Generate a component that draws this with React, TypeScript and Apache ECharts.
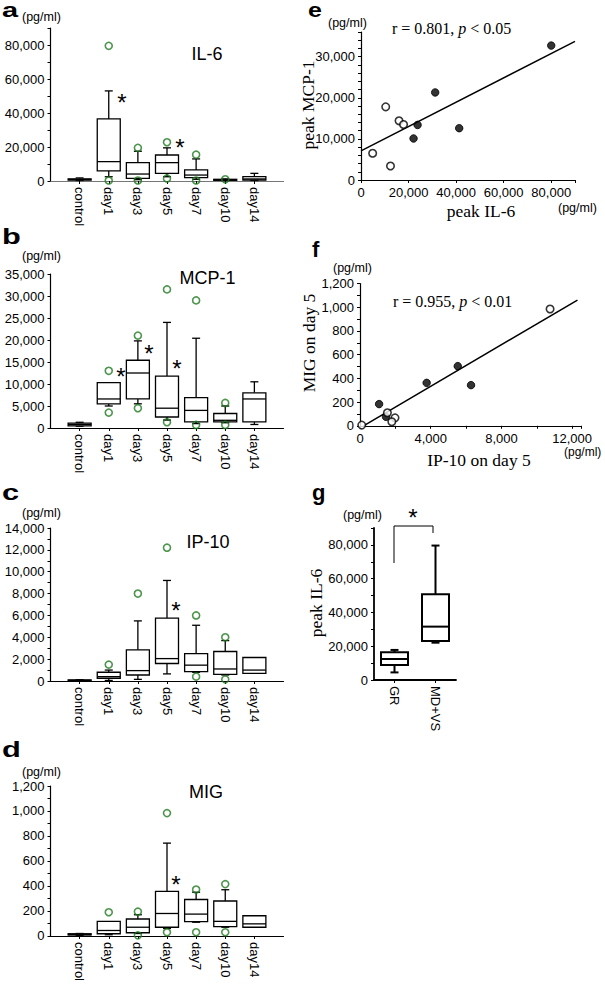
import React, { useEffect, useRef } from "react";
import * as echarts from "echarts";

// ---------- data ----------
const CATS = ["", "control", "day1", "day3", "day5", "day7", "day10", "day14", ""];

// each row: [low whisker, Q1, median, Q3, high whisker] for control, day1, day3, day5, day7, day10, day14
const IL6_BOX = [
  [300, 500, 900, 1300, 1800],
  [2500, 5900, 11400, 36500, 53000],
  [800, 1600, 4100, 10800, 17500],
  [2500, 4500, 10800, 15300, 19500],
  [1000, 2000, 3500, 6500, 13000],
  [200, 400, 700, 1000, 1200],
  [300, 600, 1200, 2600, 4500],
];
const IL6_OUT = [["day1", 79500], ["day1", 300], ["day3", 19500], ["day3", 300], ["day5", 22800], ["day5", 1500], ["day7", 15500], ["day7", 300], ["day10", 1000]];

const MCP1_BOX = [
  [400, 500, 800, 1100, 1300],
  [5000, 5500, 6600, 10300, 10300],
  [5500, 6600, 12500, 15400, 19800],
  [1800, 2500, 4500, 11800, 24000],
  [1000, 1400, 4000, 6900, 20400],
  [1200, 1400, 1750, 3300, 5000],
  [800, 1400, 6600, 8000, 10500],
];
const MCP1_OUT = [["day1", 13000], ["day1", 3500], ["day3", 21000], ["day3", 4500], ["day5", 31500], ["day5", 1300], ["day7", 29000], ["day7", 700], ["day10", 5700], ["day10", 700]];

const IP10_BOX = [
  [20, 30, 60, 100, 120],
  [50, 250, 400, 800, 1000],
  [150, 550, 950, 2850, 5500],
  [650, 1600, 2050, 5750, 9200],
  [800, 850, 1450, 2500, 5100],
  [550, 600, 1100, 2700, 3700],
  [700, 700, 1000, 2150, 2150],
];
const IP10_OUT = [["day1", 1500], ["day3", 8000], ["day5", 12200], ["day7", 6000], ["day7", 400], ["day10", 4000], ["day10", 150]];

const MIG_BOX = [
  [5, 8, 12, 18, 20],
  [10, 18, 44, 117, 117],
  [20, 26, 70, 136, 170],
  [60, 70, 180, 357, 743],
  [110, 115, 175, 292, 350],
  [70, 75, 117, 280, 370],
  [70, 70, 97, 162, 162],
];
const MIG_OUT = [["day1", 190], ["day3", 195], ["day3", 5], ["day5", 983], ["day5", 30], ["day7", 372], ["day7", 30], ["day10", 415], ["day10", 30]];

// e: peak IL-6 (x) vs peak MCP-1 (y)
const E_FILLED = [[80000, 32700], [31200, 21300], [23800, 13400], [22100, 10100], [41300, 12600]];
const E_OPEN = [[4900, 6500], [10400, 17800], [16000, 14400], [17900, 13500], [12400, 3400]];
const E_FIT = [[0, 7100], [90000, 33700]];

// f: IP-10 on day 5 (x) vs MIG on day 5 (y)
const F_FILLED = [[1080, 183], [1470, 76], [3770, 362], [5530, 503], [6280, 343]];
const F_OPEN = [[100, 6], [1550, 110], [1980, 67], [1800, 34], [10750, 985]];
const F_FIT = [[200, 0], [12300, 1060]];

// g: peak IL-6 by group
const G_CATS = ["GR", "MD+VS"];
const G_BOX = [
  [4500, 8900, 12450, 16400, 17800],
  [22100, 23100, 31600, 50800, 79600],
];

// ---------- style ----------
const SANS = "'Liberation Sans', Arial, Helvetica, sans-serif";
const SERIF = "'Liberation Serif', 'Times New Roman', serif";
const GREEN = "#1f7a1f";

const fmt = (step: number) => (v: number) =>
  Math.abs(v % step) < 1e-6 ? v.toLocaleString("en-US") : "";

function boxRender(boxW: number, capW: number, lw: number) {
  return (params: any, api: any) => {
    const x = api.value(0);
    const lo = api.value(1), q1 = api.value(2), med = api.value(3), q3 = api.value(4), hi = api.value(5);
    const pLo = api.coord([x, lo]);
    const pQ1 = api.coord([x, q1]);
    const pMed = api.coord([x, med]);
    const pQ3 = api.coord([x, q3]);
    const pHi = api.coord([x, hi]);
    const cx = pMed[0];
    const st = { stroke: "#000", lineWidth: lw, fill: "none" };
    const children: any[] = [];
    if (hi > q3) {
      children.push({ type: "line", shape: { x1: cx, y1: pQ3[1], x2: cx, y2: pHi[1] }, style: st });
      children.push({ type: "line", shape: { x1: cx - capW / 2, y1: pHi[1], x2: cx + capW / 2, y2: pHi[1] }, style: st });
    }
    if (lo < q1) {
      children.push({ type: "line", shape: { x1: cx, y1: pQ1[1], x2: cx, y2: pLo[1] }, style: st });
      children.push({ type: "line", shape: { x1: cx - capW / 2, y1: pLo[1], x2: cx + capW / 2, y2: pLo[1] }, style: st });
    }
    children.push({
      type: "rect",
      shape: { x: cx - boxW / 2, y: pQ3[1], width: boxW, height: Math.max(pQ1[1] - pQ3[1], 0.5) },
      style: { fill: "#fff", stroke: "#000", lineWidth: lw },
    });
    children.push({ type: "line", shape: { x1: cx - boxW / 2, y1: pMed[1], x2: cx + boxW / 2, y2: pMed[1] }, style: st });
    return { type: "group", children };
  };
}

function yAxisCfg(gi: number, max: number, step: number, labelStep: number) {
  return {
    type: "value",
    gridIndex: gi,
    min: 0,
    max,
    interval: step,
    axisLine: { show: true, lineStyle: { color: "#000", width: 1.2 } },
    axisTick: { show: true, length: 3, lineStyle: { color: "#000", width: 1 } },
    splitLine: { show: false },
    axisLabel: { fontSize: 13, fontFamily: SANS, color: "#000", margin: 6, formatter: fmt(labelStep) },
  };
}

function catXAxis(gi: number, color: string) {
  return {
    type: "category",
    gridIndex: gi,
    data: CATS,
    boundaryGap: false,
    axisLine: { onZero: false, lineStyle: { color, width: 1.2 } },
    axisTick: { show: true, length: 3, interval: (i: number) => i > 0 && i < CATS.length - 1, lineStyle: { color: "#000" } },
    axisLabel: { rotate: -90, interval: 0, fontSize: 13, fontFamily: SANS, color: "#000", margin: 6 },
  };
}

function valXAxis(gi: number, max: number, step: number, labelStep: number) {
  return {
    type: "value",
    gridIndex: gi,
    min: 0,
    max,
    interval: step,
    axisLine: { show: true, onZero: false, lineStyle: { color: "#000", width: 1.2 } },
    axisTick: { show: true, length: 3, lineStyle: { color: "#000" } },
    splitLine: { show: false },
    axisLabel: { fontSize: 13, fontFamily: SANS, color: "#000", margin: 6, formatter: fmt(labelStep) },
  };
}

function boxSeries(gi: number, boxes: number[][], outs: (string | number)[][]) {
  return [
    {
      type: "custom",
      xAxisIndex: gi,
      yAxisIndex: gi,
      renderItem: boxRender(23, 8, 1.3),
      data: boxes.map((b, i) => [i + 1, ...b]),
      z: 2,
    },
    {
      type: "scatter",
      xAxisIndex: gi,
      yAxisIndex: gi,
      symbol: "circle",
      symbolSize: 7,
      itemStyle: { color: "rgba(0,0,0,0)", borderColor: GREEN, borderWidth: 1.6 },
      data: outs.map(([n, v]) => [CATS.indexOf(n as string), v]),
      z: 3,
    },
  ];
}

const txt = (text: string, x: number, y: number, size: number, o: any = {}) => ({
  type: "text",
  x,
  y,
  rotation: o.rot || 0,
  scaleX: o.sx || 1,
  z: 10,
  style: {
    text,
    fontSize: size,
    fontFamily: o.family || SANS,
    fontWeight: o.bold ? "bold" : "normal",
    fill: "#000",
    align: o.align || "left",
    verticalAlign: "middle",
    lineHeight: o.lh,
    rich: o.rich,
  },
});

export default function App() {
  const ref = useRef<HTMLDivElement>(null);
  useEffect(() => {
    if (!ref.current) return;
    const chart = echarts.init(ref.current, null, { renderer: "svg" });

    const grids = [
      { left: 50.5, top: 28, width: 233, height: 153 },
      { left: 50.5, top: 274, width: 233, height: 154 },
      { left: 50.5, top: 528, width: 233, height: 153 },
      { left: 50.5, top: 786, width: 233, height: 153 },
      { left: 361, top: 32, width: 214, height: 148 },
      { left: 360, top: 283.5, width: 221, height: 142.3 },
      { left: 374, top: 528, width: 82, height: 152 },
    ];

    const xAxis: any[] = [
      catXAxis(0, "#777"),
      catXAxis(1, "#000"),
      catXAxis(2, "#000"),
      catXAxis(3, "#000"),
      valXAxis(4, 90000, 20000, 20000),
      valXAxis(5, 12500, 2000, 4000),
      {
        type: "category",
        gridIndex: 6,
        data: G_CATS,
        boundaryGap: true,
        axisLine: { onZero: false, lineStyle: { color: "#000", width: 1.8 } },
        axisTick: { show: true, alignWithLabel: true, length: 3, lineStyle: { color: "#000" } },
        axisLabel: { rotate: -90, interval: 0, fontSize: 13, fontFamily: SANS, color: "#000", margin: 6 },
      },
    ];

    const yAxis: any[] = [
      yAxisCfg(0, 90000, 10000, 20000),
      yAxisCfg(1, 35000, 5000, 5000),
      yAxisCfg(2, 14000, 1000, 2000),
      yAxisCfg(3, 1200, 100, 200),
      yAxisCfg(4, 36000, 2000, 10000),
      yAxisCfg(5, 1200, 100, 200),
      { ...yAxisCfg(6, 90000, 10000, 20000), axisLine: { show: true, lineStyle: { color: "#000", width: 1.8 } } },
    ];

    const scatterStyle = (filled: boolean) => ({
      symbol: "circle",
      symbolSize: 7.5,
      itemStyle: filled
        ? { color: "#000", borderColor: "#000", borderWidth: 1 }
        : { color: "#fff", borderColor: "#000", borderWidth: 1.6 },
    });

    const series: any[] = [
      ...boxSeries(0, IL6_BOX, IL6_OUT),
      ...boxSeries(1, MCP1_BOX, MCP1_OUT),
      ...boxSeries(2, IP10_BOX, IP10_OUT),
      ...boxSeries(3, MIG_BOX, MIG_OUT),
      { type: "line", xAxisIndex: 4, yAxisIndex: 4, data: E_FIT, symbol: "none", lineStyle: { color: "#000", width: 1.5 }, z: 1 },
      { type: "scatter", xAxisIndex: 4, yAxisIndex: 4, data: E_FILLED, ...scatterStyle(true), z: 3 },
      { type: "scatter", xAxisIndex: 4, yAxisIndex: 4, data: E_OPEN, ...scatterStyle(false), z: 3 },
      { type: "line", xAxisIndex: 5, yAxisIndex: 5, data: F_FIT, symbol: "none", lineStyle: { color: "#000", width: 1.5 }, z: 1 },
      { type: "scatter", xAxisIndex: 5, yAxisIndex: 5, data: F_FILLED, ...scatterStyle(true), z: 3 },
      { type: "scatter", xAxisIndex: 5, yAxisIndex: 5, data: F_OPEN, ...scatterStyle(false), z: 3 },
      {
        type: "custom",
        xAxisIndex: 6,
        yAxisIndex: 6,
        renderItem: boxRender(27, 8, 2),
        data: G_BOX.map((b, i) => [i, ...b]),
        z: 2,
      },
    ];

    const rich = (size: number) => ({ i: { fontStyle: "italic", fontFamily: SERIF, fontSize: size } });
    const L = { bold: true, lh: 14 };

    const graphics: any[] = [
      // panel letters
      txt("a", 2, 10, 20, { ...L, sx: 1.45 }),
      txt("b", 2, 236.7, 22, { ...L, sx: 1.4 }),
      txt("c", 2, 492.7, 22, { ...L, sx: 1.4 }),
      txt("d", 2, 749.7, 22, { ...L, sx: 1.4 }),
      txt("e", 308, 10, 20, { ...L, sx: 1.25 }),
      txt("f", 312, 249.7, 22, L),
      txt("g", 312, 492.7, 22, L),
      // units
      txt("(pg/ml)", 22, 17, 12.5),
      txt("(pg/ml)", 22, 256, 12.5),
      txt("(pg/ml)", 22, 513, 12.5),
      txt("(pg/ml)", 22, 772, 12.5),
      txt("(pg/ml)", 328, 23, 12.5),
      txt("(pg/ml)", 558, 208, 12.5),
      txt("(pg/ml)", 333, 268, 12.5),
      txt("(pg/ml)", 564, 451.5, 12),
      txt("(pg/ml)", 343, 515, 12.5),
      // titles
      txt("IL-6", 207, 54, 18, { align: "center" }),
      txt("MCP-1", 207.5, 278.3, 18, { align: "center" }),
      txt("IP-10", 208, 542.3, 18, { align: "center" }),
      txt("MIG", 206, 791.7, 18, { align: "center" }),
      // asterisks
      txt("*", 122, 102, 24, { align: "center" }),
      txt("*", 180, 147, 24, { align: "center" }),
      txt("*", 121, 376, 24, { align: "center" }),
      txt("*", 149, 353, 24, { align: "center" }),
      txt("*", 177, 368, 24, { align: "center" }),
      txt("*", 176, 610, 24, { align: "center" }),
      txt("*", 176, 884, 24, { align: "center" }),
      txt("*", 413, 517, 24, { align: "center" }),
      // correlation labels
      txt("r = 0.801, {i|p} < 0.05", 392, 28.3, 16, { family: SERIF, rich: rich(16) }),
      txt("r = 0.955, {i|p} < 0.01", 393, 301.7, 16, { family: SERIF, rich: rich(16) }),
      // axis names
      txt("peak IL-6", 481, 211, 17.5, { family: SERIF, align: "center" }),
      txt("IP-10 on day 5", 479, 459.7, 17.5, { family: SERIF, align: "center" }),
      txt("peak MCP-1", 308, 105, 17.5, { family: SERIF, align: "center", rot: Math.PI / 2 }),
      txt("MIG on day 5", 309, 343, 17.5, { family: SERIF, align: "center", rot: Math.PI / 2 }),
      txt("peak IL-6", 316, 603, 17.5, { family: SERIF, align: "center", rot: Math.PI / 2 }),
      // significance bracket in g
      {
        type: "polyline",
        z: 10,
        shape: { points: [[394, 563], [394, 526], [433, 526], [433, 533]] },
        style: { stroke: "#000", lineWidth: 1, fill: "none" },
      },
    ];

    chart.setOption({
      animation: false,
      backgroundColor: "#fff",
      grid: grids,
      xAxis,
      yAxis,
      series,
      graphic: { elements: graphics },
    });
    return () => chart.dispose();
  }, []);

  return (
    <div
      ref={ref}
      style={{ position: "absolute", left: 0, top: 0, width: 605, height: 984 }}
    />
  );
}
